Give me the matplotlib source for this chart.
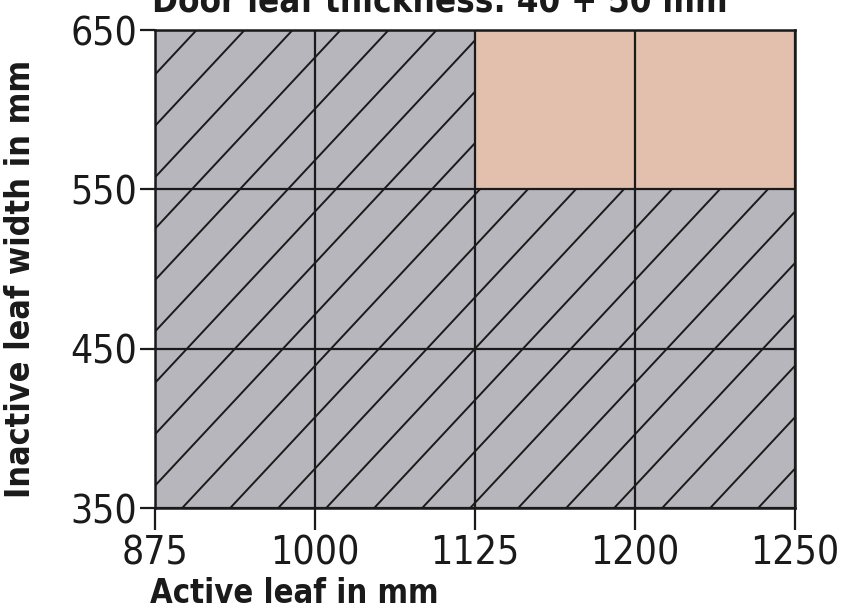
import matplotlib.pyplot as plt
from matplotlib.patches import Polygon, Rectangle
import matplotlib.font_manager as fm

# Door leaf chart - active vs inactive leaf widths

active_leaf = ['875', '1000', '1125', '1200', '1250']
inactive_leaf = [350, 450, 550, 650]
# region that is not hatched (salmon): active 1125..1250, inactive 550..650
open_active = ('1125', '1250')
open_inactive = (550, 650)

title = 'Door leaf thickness: 40 + 50 mm'
xlabel = 'Active leaf in mm'
ylabel = 'Inactive leaf width in mm'

names = sorted({f.name for f in fm.fontManager.ttflist})
font = 'Liberation Sans Narrow' if 'Liberation Sans Narrow' in names else 'DejaVu Sans'
plt.rcParams['font.family'] = [font, 'DejaVu Sans']
plt.rcParams['font.stretch'] = 'condensed'

grey = '#b6b6bc'
salmon = '#e3bfad'
ink = '#1a1a1a'

fig = plt.figure(figsize=(8.46, 6.12), dpi=100)
ax = fig.add_axes([155 / 846, 1 - 508 / 612, 640 / 846, 478 / 612])

xs = range(len(active_leaf))
x0, x1 = 0, len(active_leaf) - 1
y0, y1 = inactive_leaf[0], inactive_leaf[-1]
ox0 = active_leaf.index(open_active[0])
ox1 = active_leaf.index(open_active[1])

# salmon block
ax.add_patch(Rectangle((ox0, open_inactive[0]), ox1 - ox0,
                       open_inactive[1] - open_inactive[0],
                       facecolor=salmon, edgecolor='none', zorder=1))

# grey hatched area = everything else
grey_poly = Polygon([(x0, y0), (x1, y0), (x1, open_inactive[0]),
                     (ox0, open_inactive[0]), (ox0, y1), (x0, y1)],
                    closed=True, facecolor=grey, edgecolor='none', zorder=1)
ax.add_patch(grey_poly)

# diagonal hatch lines clipped to grey area
step = 0.3
span = (y1 - y0) / 100.0 * 0.93
for n in range(-2, 30):
    xt = 0.26 + n * step
    ln, = ax.plot([xt - span, xt], [y0, y1], color=ink, lw=1.4, zorder=2)
    ln.set_clip_path(grey_poly)

ax.set_xlim(x0, x1)
ax.set_ylim(y0, y1)
ax.set_xticks(list(xs))
ax.set_xticklabels(active_leaf)
ax.set_yticks(inactive_leaf)
ax.grid(True, color=ink, lw=1.6, zorder=3)
ax.set_axisbelow(False)

for s in ax.spines.values():
    s.set_color(ink)
    s.set_linewidth(1.8)
    s.set_zorder(4)

ax.tick_params(axis='x', length=16, width=1.6, labelsize=28, pad=3, colors=ink)
ax.tick_params(axis='y', length=11, width=1.6, labelsize=28, pad=2, colors=ink)
ax.set_xlabel(xlabel, fontsize=23.5, fontweight='bold', color=ink)
ax.xaxis.set_label_coords(-0.008, -0.145)
ax.xaxis.label.set_horizontalalignment('left')
ax.set_ylabel(ylabel, fontsize=24.5, fontweight='bold', color=ink)
ax.yaxis.set_label_coords(-0.185, 0.48)

fig.text(440 / 846, 1 - 11 / 612, title, ha='center', va='baseline',
         fontsize=25, fontweight='bold', color=ink)

plt.savefig('out.png', dpi=100)
